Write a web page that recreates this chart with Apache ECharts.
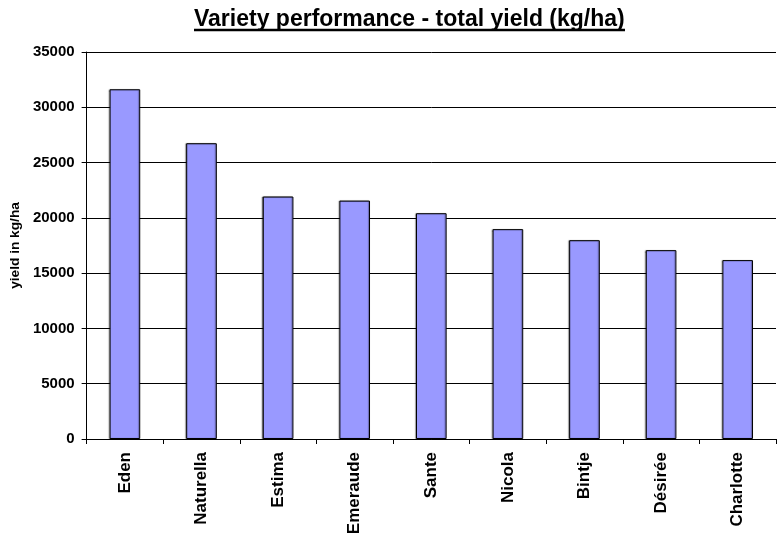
<!DOCTYPE html>
<html><head><meta charset="utf-8">
<script src="https://cdn.jsdelivr.net/npm/echarts@6/dist/echarts.min.js"></script>
<style>html,body{margin:0;padding:0;background:#fff}#c{width:778px;height:538px}</style>
</head><body><div id="c"></div>
<script>
const categories = ['Eden','Naturella','Estima','Emeraude','Sante','Nicola','Bintje','Désirée','Charlotte'];
const yieldValues = [31630, 26750, 21930, 21560, 20420, 18980, 17980, 17080, 16180];
const titleText = 'Variety performance - total yield (kg/ha)';
const yAxisName = 'yield in kg/ha';

const F = 'Liberation Sans, Arial, sans-serif';
const chart = echarts.init(document.getElementById('c'), null, {renderer:'canvas'});
chart.setOption({
  animation:false,
  backgroundColor:'#fff',
  title:{text:titleText, left:194, top:8, padding:0, itemGap:0,
    textStyle:{fontFamily:F, fontWeight:'bold', fontSize:23, color:'#000'}},
  graphic:[{type:'line', shape:{x1:194,y1:30,x2:625,y2:30}, style:{stroke:'#000', lineWidth:2.5}}],
  grid:{left:84, right:2, top:52, bottom:99, containLabel:false},
  xAxis:{type:'category', data:categories,
    axisLine:{lineStyle:{color:'#000', width:1}},
    axisTick:{show:true, alignWithLabel:false, length:5, lineStyle:{color:'#000'}},
    axisLabel:{rotate:90, margin:13, color:'#000', fontFamily:F, fontWeight:'bold', fontSize:17, interval:0}},
  yAxis:{type:'value', min:0, max:35000, interval:5000,
    name:yAxisName, nameLocation:'middle', nameGap:52, nameRotate:90,
    nameTextStyle:{color:'#000', fontFamily:F, fontWeight:'bold', fontSize:13.7},
    axisLine:{show:true, lineStyle:{color:'#000'}},
    axisTick:{show:true, length:5, lineStyle:{color:'#000'}},
    splitLine:{lineStyle:{color:'#000', width:1}},
    axisLabel:{margin:12, color:'#000', fontFamily:F, fontWeight:'bold', fontSize:15,
      formatter:function(v){return String(v);}}},
  series:[{type:'bar', data:yieldValues, barWidth:'40%',
    itemStyle:{color:'#9999ff', borderColor:'#000', borderWidth:1,
      shadowColor:'rgba(0,0,0,0.35)', shadowOffsetX:-1, shadowOffsetY:0, shadowBlur:1}}]
});
</script></body></html>
